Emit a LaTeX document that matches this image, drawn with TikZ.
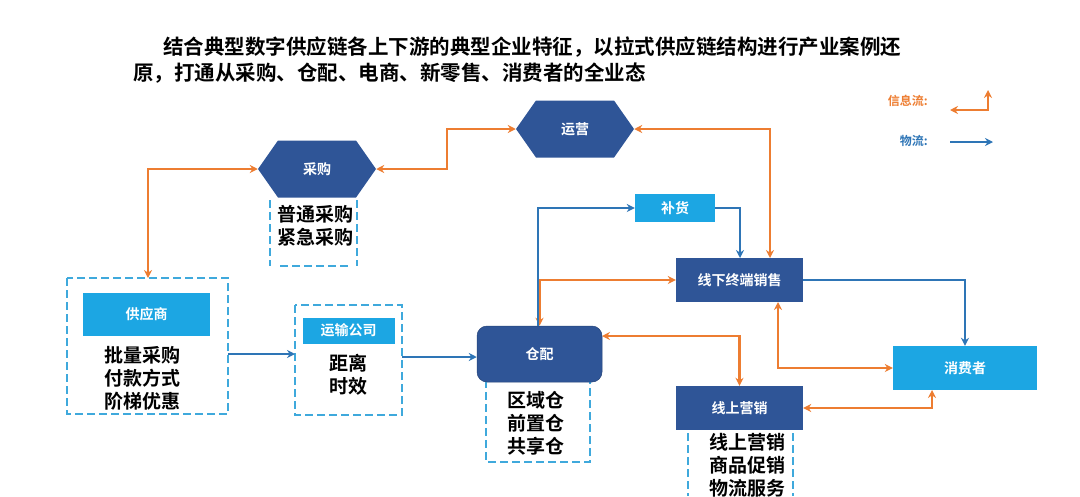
\documentclass[tikz,border=0pt]{standalone}
\usepackage{fontspec}
\setmainfont{Noto Sans CJK SC}[BoldFont={* Bold}]
\usetikzlibrary{shapes.symbols,arrows.meta}
\definecolor{dblue}{HTML}{2F5597}
\definecolor{lblue}{HTML}{1CA6E3}
\definecolor{oran}{HTML}{ED7D31}
\definecolor{bline}{HTML}{2E75B6}
\definecolor{dash}{HTML}{3FA9DC}
\begin{document}
\begin{tikzpicture}[x=1pt,y=-1pt,
  hex/.style={shape=signal,signal to=west and east,signal pointer angle=110,fill=dblue,draw=none,minimum width=118pt,minimum height=57pt,inner sep=0pt,text=white,font=\bfseries\fontsize{14}{16}\selectfont},
  dbox/.style={fill=dblue,draw=none,inner sep=0pt,text=white,font=\bfseries\fontsize{14}{16}\selectfont},
  lbox/.style={fill=lblue,draw=none,inner sep=0pt,text=white,font=\bfseries\fontsize{14}{16}\selectfont},
  dsh/.style={draw=dash,line width=2pt,dash pattern=on 8pt off 4pt},
  txt/.style={font=\bfseries\fontsize{19}{23}\selectfont,align=center,inner sep=0pt},
  info/.style={draw=oran,line width=2.5pt,{Stealth[length=8pt,width=8pt]}-{Stealth[length=8pt,width=8pt]}},
  mat/.style={draw=bline,line width=2.5pt,-{Stealth[length=8pt,width=8pt]}}]
\useasboundingbox (0,0) rectangle (1080,496);
% title
\node[anchor=west,inner sep=0pt,font=\bfseries\fontsize{20.5}{24}\selectfont] (t1) at (163,47) {结合典型数字供应链各上下游的典型企业特征，以拉式供应链结构进行产业案例还};
\node[anchor=west,inner sep=0pt,font=\bfseries\fontsize{20.5}{24}\selectfont] (t2) at (133,73) {原，打通从采购、仓配、电商、新零售、消费者的全业态};
% legend
\node[anchor=east,inner sep=0pt,text=oran,font=\bfseries\fontsize{12}{14}\selectfont] (l1) at (928,101) {信息流:};
\node[anchor=east,inner sep=0pt,text=bline,font=\bfseries\fontsize{12}{14}\selectfont] (l2) at (928,141) {物流:};
\coordinate (la) at (950,110); \coordinate (lb) at (988,90);
\draw[info,line width=2pt] (la) -| (lb);
\coordinate (lc) at (950,142); \coordinate (ld) at (993,142);
\draw[mat,line width=2pt] (lc) -- (ld);
% nodes
\node[hex] (yy) at (575,129) {运营};
\node[hex] (cg) at (317,169) {采购};
\draw[dsh] (270,200) -- (270,266) (357,200) -- (357,266) (280,266) -- (350,266);
\node[txt] (cgt) at (315,226) {普通采购\\紧急采购};
% supplier
\draw[dsh] (67,278) rectangle (228,414);
\node[lbox,minimum width=127pt,minimum height=43pt] (gys) at (146.5,314.5) {供应商};
\node[txt] (gyst) at (142,378) {批量采购\\付款方式\\阶梯优惠};
\coordinate (gysT) at (148,278); \coordinate (gysR) at (228,354);
% transport
\draw[dsh] (295,305) rectangle (402,415);
\node[lbox,minimum width=92pt,minimum height=26pt] (ys) at (348.5,330.5) {运输公司};
\node[txt] (yst) at (348,375) {距离\\时效};
\coordinate (ysL) at (295,354); \coordinate (ysR) at (402,357);
% warehouse
\draw[dsh] (486,380) -- (486,462) -- (590,462) -- (590,380);
\node[dbox,rounded corners=10pt,minimum width=125pt,minimum height=56pt,draw=dblue!80!black,line width=0.5pt] (cp) at (539.5,354) {仓配};
\node[txt] (cpt) at (536,423) {区域仓\\前置仓\\共享仓};
% others
\node[lbox,minimum width=80pt,minimum height=28pt] (bh) at (675,208) {补货};
\node[dbox,minimum width=127pt,minimum height=44pt] (xx) at (739.5,280) {线下终端销售};
\node[lbox,minimum width=144pt,minimum height=44pt] (xf) at (965,368) {消费者};
\node[dbox,minimum width=127pt,minimum height=44pt] (xs) at (739.5,408) {线上营销};
\draw[dsh] (688,433) -- (688,496) (793,433) -- (793,496);
\node[txt] (xst) at (747,465) {线上营销\\商品促销\\物流服务};
% info flows
\draw[info] (cg.west) -| (gysT);
\draw[info] (cg.east) -- (447,169) |- (yy.west);
\draw[info] (yy.east) -- (770,129) -- (770,258);
\draw[info] (cp.north) |- (xx.west);
\draw[info] (602,336) -| (xs.north);
\draw[info] (778,302) |- (xf.west);
\draw[info] (xs.east) -| (932,390);
% material flows
\draw[mat] (gysR) -- (ysL);
\draw[mat] (ysR) -- (cp.west |- ysR);
\draw[mat] (538,326) |- (bh.west);
\draw[mat] (bh.east) -| (740,258);
\draw[mat] (xx.east) -| (xf.north);
\end{tikzpicture}
\end{document}
